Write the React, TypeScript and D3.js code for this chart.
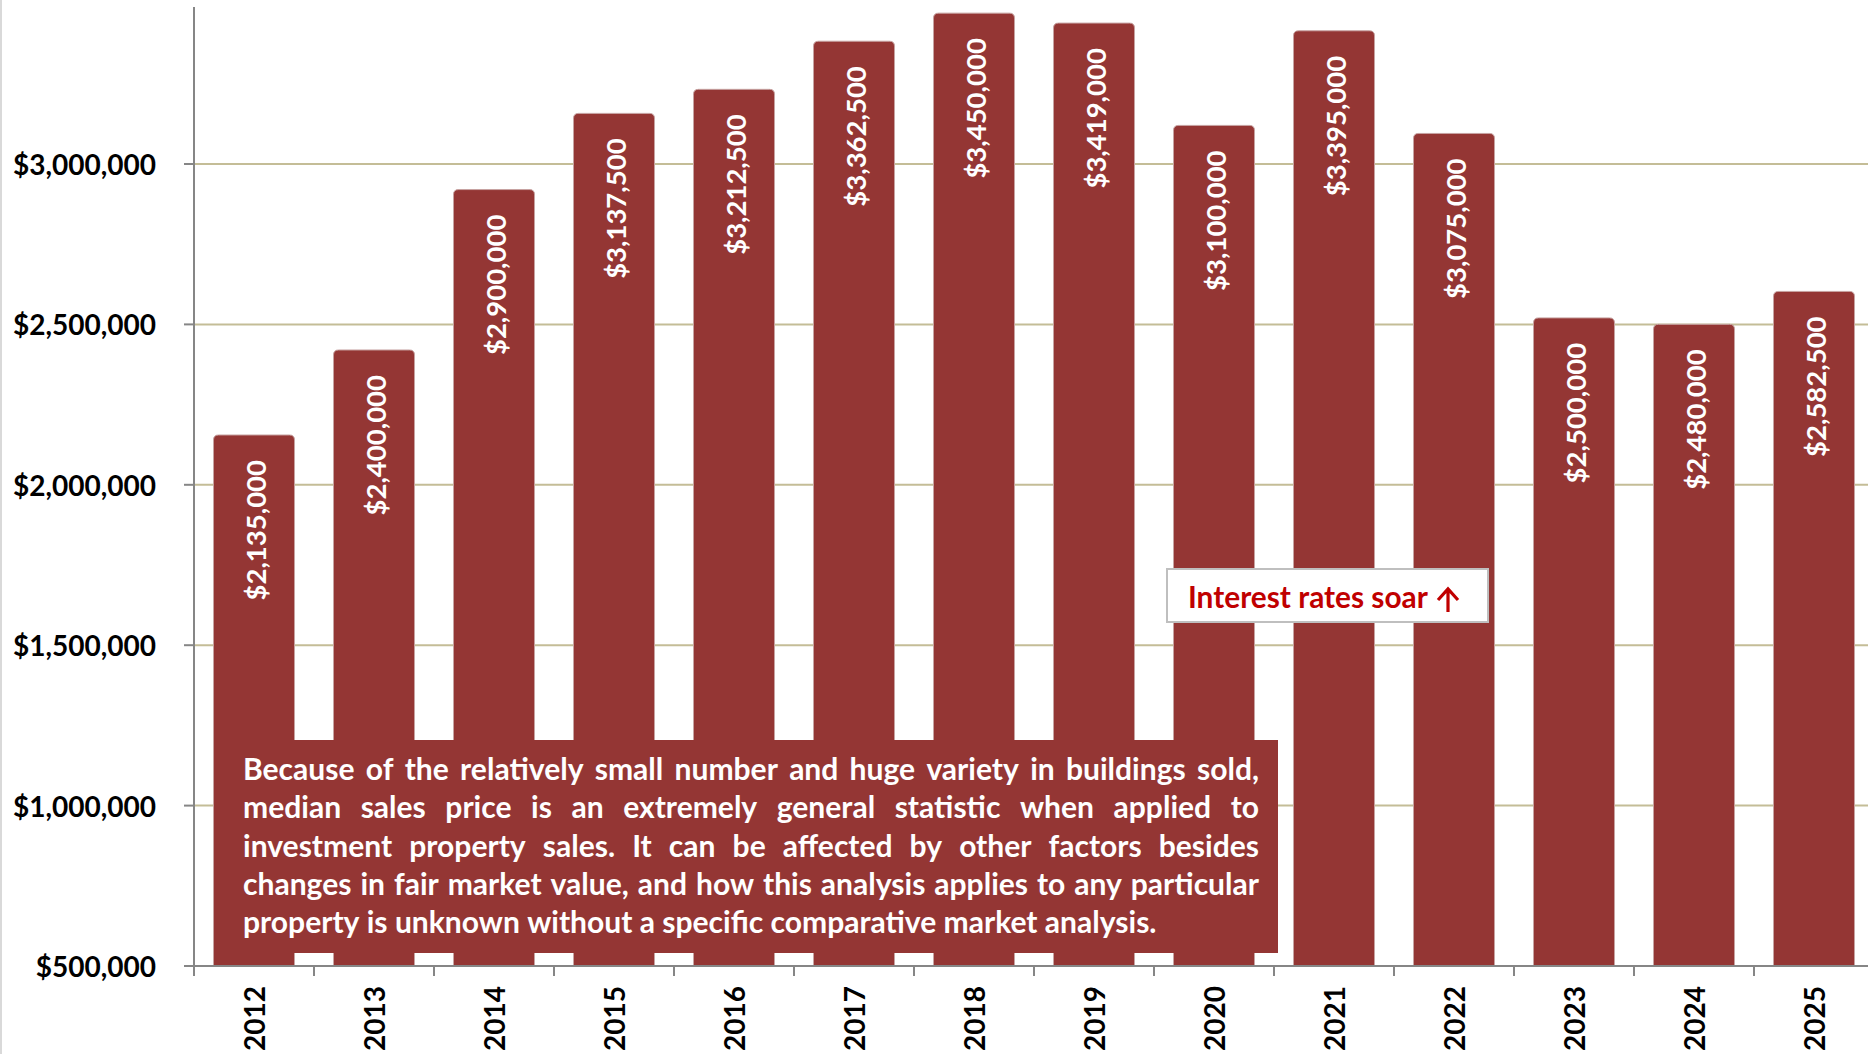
import React, { useMemo } from "react";
import * as d3 from "d3";

const years = ["2012", "2013", "2014", "2015", "2016", "2017", "2018", "2019", "2020", "2021", "2022", "2023", "2024", "2025"];
const medianPrices = [2135000, 2400000, 2900000, 3137500, 3212500, 3362500, 3450000, 3419000, 3100000, 3395000, 3075000, 2500000, 2480000, 2582500];
const yTicks = [500000, 1000000, 1500000, 2000000, 2500000, 3000000];
const noteLines = [
  "Because of the relatively small number and huge variety in buildings sold,",
  "median sales price is an extremely general statistic when applied to",
  "investment property sales. It can be affected by other factors besides",
  "changes in fair market value, and how this analysis applies to any particular",
  "property is unknown without a specific comparative market analysis.",
];
const calloutText = "Interest rates soar";

const W = 1868;
const H = 1054;
const BAR = "#943634";
const FONT = "Lato, 'Open Sans', sans-serif";

function measureText(text: string, font: string): number {
  const c = document.createElement("canvas");
  const ctx = c.getContext("2d")!;
  ctx.font = font;
  return ctx.measureText(text).width;
}

export default function App() {
  const x = d3.scaleBand<string>().domain(years).range([194, 1874]).paddingInner(0.325).paddingOuter(0.1625);
  const y = d3.scaleLinear().domain([500000, 3500000]).range([966, 3.6]);
  const fmt = d3.format("$,.0f");
  const topLift = 6.5;
  const r = 5;

  const note = useMemo(() => {
    const left = 243, right = 1259;
    const base = 27;
    const w5 = measureText(noteLines[4], `bold ${base}px ${FONT}`);
    const fs = base * 914 / w5;
    const font = `bold ${fs}px ${FONT}`;
    const spaceW = measureText(" ", font);
    return {
      fs,
      lines: noteLines.map((line, i) => {
        const words = line.split(" ");
        const widths = words.map((w) => measureText(w, font));
        const total = widths.reduce((a, b) => a + b, 0);
        const justify = i < noteLines.length - 1;
        const gap = justify ? (right - left - total) / (words.length - 1) : spaceW;
        let cx = left;
        return words.map((w, k) => {
          const p = { w, x: cx };
          cx += widths[k] + gap;
          return p;
        });
      }),
    };
  }, []);

  const calloutFs = useMemo(() => {
    const base = 26;
    const w = measureText(calloutText, `bold ${base}px ${FONT}`);
    return base * 240 / w;
  }, []);

  const bars = years.map((yr, i) => {
    const v = medianPrices[i];
    const x0 = x(yr)!;
    const bw = x.bandwidth();
    const top = y(v) - topLift;
    const bottom = y(500000);
    const d = `M${x0},${bottom} L${x0},${top + r} Q${x0},${top} ${x0 + r},${top} L${x0 + bw - r},${top} Q${x0 + bw},${top} ${x0 + bw},${top + r} L${x0 + bw},${bottom} Z`;
    return { yr, v, x0, bw, top, d };
  });

  const step = x.step();
  const half = (step - x.bandwidth()) / 2;
  const boundaries = years.map((yr) => x(yr)! - half).concat([x(years[years.length - 1])! + x.bandwidth() + half]);

  return (
    <svg width={W} height={H} style={{ position: "absolute", left: 0, top: 0, display: "block", background: "#fff" }}>
      <line x1={1} x2={1} y1={0} y2={H} stroke="#d9d9d9" strokeWidth={2} />
      {yTicks.slice(1).map((t) => (
        <line key={t} x1={194} x2={W} y1={y(t)} y2={y(t)} stroke="#c4bd97" strokeWidth={2} />
      ))}
      {bars.map((b) => (
        <path key={b.yr} d={b.d} fill={BAR} stroke="#c7a3a2" strokeWidth={1} />
      ))}
      {bars.map((b) => (
        <text
          key={"l" + b.yr}
          transform={`translate(${b.x0 + b.bw / 2 + 1},${b.top + 25}) rotate(-90)`}
          textAnchor="end"
          dominantBaseline="central"
          fill="#fff"
          fontFamily={FONT}
          fontWeight="bold"
          fontSize={27.5}
        >
          {fmt(b.v)}
        </text>
      ))}
      <line x1={194} x2={194} y1={7} y2={976} stroke="#868686" strokeWidth={2} />
      <line x1={184} x2={W} y1={966} y2={966} stroke="#868686" strokeWidth={2} />
      {yTicks.map((t) => (
        <g key={"t" + t}>
          <line x1={184} x2={194} y1={y(t)} y2={y(t)} stroke="#868686" strokeWidth={2} />
          <text x={156} y={y(t)} textAnchor="end" dominantBaseline="central" fontFamily={FONT} fontWeight="bold" fontSize={28} fill="#000">
            {fmt(t)}
          </text>
        </g>
      ))}
      {boundaries.map((bx, i) => (
        <line key={"xb" + i} x1={bx} x2={bx} y1={966} y2={976} stroke="#868686" strokeWidth={2} />
      ))}
      {years.map((yr) => (
        <text
          key={"x" + yr}
          transform={`translate(${x(yr)! + x.bandwidth() / 2},${986}) rotate(-90)`}
          textAnchor="end"
          dominantBaseline="central"
          fontFamily={FONT}
          fontWeight="bold"
          fontSize={28}
          fill="#000"
        >
          {yr}
        </text>
      ))}
      <rect x={214} y={740} width={1064} height={213} fill={BAR} />
      {note.lines.map((ln, i) => (
        <g key={"n" + i}>
          {ln.map((p, k) => (
            <text key={k} x={p.x} y={780 + i * 38.3} fill="#fff" fontFamily={FONT} fontWeight="bold" fontSize={note.fs}>
              {p.w}
            </text>
          ))}
        </g>
      ))}
      <rect x={1167} y={569} width={321} height={53} fill="#fff" stroke="#bfbfbf" strokeWidth={2} />
      <text x={1188} y={608} fill="#c00000" fontFamily={FONT} fontWeight="bold" fontSize={calloutFs}>
        {calloutText}
      </text>
      <path d="M1448,612 L1448,590 M1438,600 L1448,589 L1458,600" fill="none" stroke="#c00000" strokeWidth={3.2} strokeLinejoin="miter" />
    </svg>
  );
}
